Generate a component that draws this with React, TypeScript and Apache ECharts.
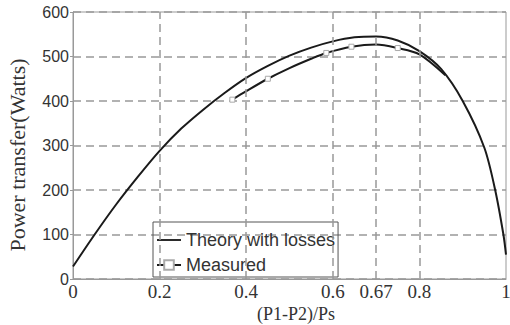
import React, { useEffect, useRef } from "react";
import * as echarts from "echarts";

const theoryX = [0, 0.05, 0.1, 0.15, 0.2, 0.25, 0.3, 0.35, 0.4, 0.45, 0.5, 0.55, 0.6, 0.65, 0.7, 0.75, 0.8, 0.85, 0.9, 0.95, 0.975, 0.994, 1.0];
const theoryY = [28, 100, 168, 230, 288, 338, 380, 418, 452, 479, 502, 520, 534, 543, 545, 536, 512, 472, 400, 295, 200, 100, 55];

const measuredX = [0.368, 0.4, 0.45, 0.5, 0.55, 0.585, 0.643, 0.7, 0.75, 0.8, 0.86];
const measuredY = [403, 422, 450, 474, 495, 508, 522, 527, 519, 505, 458];
const measuredMarker = [true, false, true, false, false, true, true, false, true, false, false];

const xGridValues = [0.2, 0.4, 0.6, 0.7, 0.8];
const xTickLabels: Record<string, string> = { "0": "0", "0.2": "0.2", "0.4": "0.4", "0.6": "0.6", "0.7": "0.67", "0.8": "0.8", "1": "1" };
const yTicks = [0, 100, 200, 300, 400, 500, 600];

const seriesNames = ["Theory with losses", "Measured"];
const yAxisTitle = "Power transfer(Watts)";
const xAxisTitle = "(P1-P2)/Ps";

export default function App() {
  const ref = useRef<HTMLDivElement>(null);
  useEffect(() => {
    if (!ref.current) return;
    const chart = echarts.init(ref.current, undefined, { renderer: "svg" });
    const theoryData = theoryX.map((x, i) => [x, theoryY[i]]);
    const measuredData = measuredX.map((x, i) =>
      measuredMarker[i]
        ? { value: [x, measuredY[i]], symbol: "rect", symbolSize: 5 }
        : { value: [x, measuredY[i]], symbol: "none" }
    );
    chart.setOption({
      animation: false,
      backgroundColor: "#fff",
      grid: {
        left: 73,
        top: 12,
        right: 4,
        bottom: 46,
        outerBoundsMode: "none",
        containLabel: false,
        show: true,
        borderColor: "#999",
        borderWidth: 1,
        backgroundColor: "transparent",
      },
      graphic: [
        {
          type: "text",
          x: 17,
          y: 155,
          rotation: Math.PI / 2,
          style: {
            text: yAxisTitle,
            fontFamily: "Liberation Serif",
            fontSize: 22,
            fill: "#333",
            align: "center",
            verticalAlign: "middle",
          },
        },
        {
          type: "text",
          x: 296,
          y: 314,
          style: {
            text: xAxisTitle,
            fontFamily: "Liberation Serif",
            fontSize: 18,
            fill: "#333",
            align: "center",
            verticalAlign: "middle",
          },
        },
      ],
      legend: {
        orient: "vertical",
        left: 153,
        top: 222,
        padding: [9, 3, 3, 3],
        itemGap: 7,
        itemWidth: 24,
        itemHeight: 12,
        borderColor: "#555",
        borderWidth: 1,
        backgroundColor: "transparent",
        data: [
          { name: seriesNames[0], icon: "path://M0,5L26,5L26,7L0,7Z", itemStyle: { color: "#1a1a1a" } },
          { name: seriesNames[1] },
        ],
        textStyle: { fontFamily: "Liberation Sans", fontSize: 18, color: "#333" },
      },
      xAxis: {
        type: "value",
        min: 0,
        max: 1,
        interval: 0.1,
        axisLine: { show: true, lineStyle: { color: "#999", width: 1 } },
        axisTick: { show: false },
        splitLine: { show: false },
        axisLabel: {
          margin: 3,
          fontFamily: "Liberation Serif",
          fontSize: 19,
          color: "#333",
          formatter: (v: number) => {
            const k = String(Math.round(v * 10) / 10);
            return xTickLabels[k] ?? "";
          },
        },
      },
      yAxis: {
        type: "value",
        min: yTicks[0],
        max: yTicks[yTicks.length - 1],
        interval: 100,
        axisLine: { show: true, lineStyle: { color: "#999", width: 1 } },
        axisTick: { show: true, length: 3, lineStyle: { color: "#999" } },
        splitLine: { show: true, lineStyle: { color: "#999", width: 1.5, type: [8, 5] } },
        axisLabel: {
          margin: 4,
          fontFamily: "Liberation Sans",
          fontSize: 16,
          color: "#333",
        },
      },
      series: [
        {
          type: "line",
          name: "grid",
          data: [],
          silent: true,
          z: 1,
          markLine: {
            silent: true,
            symbol: "none",
            label: { show: false },
            lineStyle: { color: "#999", width: 1.5, type: [8, 5] },
            data: xGridValues.map((v) => ({ xAxis: v })),
          },
        },
        {
          type: "line",
          name: seriesNames[0],
          data: theoryData,
          smooth: 0.3,
          symbol: "none",
          z: 3,
          lineStyle: { color: "#1a1a1a", width: 2 },
          itemStyle: { color: "#1a1a1a" },
        },
        {
          type: "line",
          name: seriesNames[1],
          data: measuredData,
          smooth: 0.3,
          symbol: "rect",
          symbolSize: 5,
          showSymbol: true,
          z: 3,
          lineStyle: { color: "#1a1a1a", width: 2 },
          itemStyle: { color: "#fff", borderColor: "#aaa", borderWidth: 1 },
        },
      ],
    });
    return () => chart.dispose();
  }, []);
  return <div ref={ref} style={{ position: "fixed", left: 0, top: 0, width: 510, height: 325 }} />;
}
